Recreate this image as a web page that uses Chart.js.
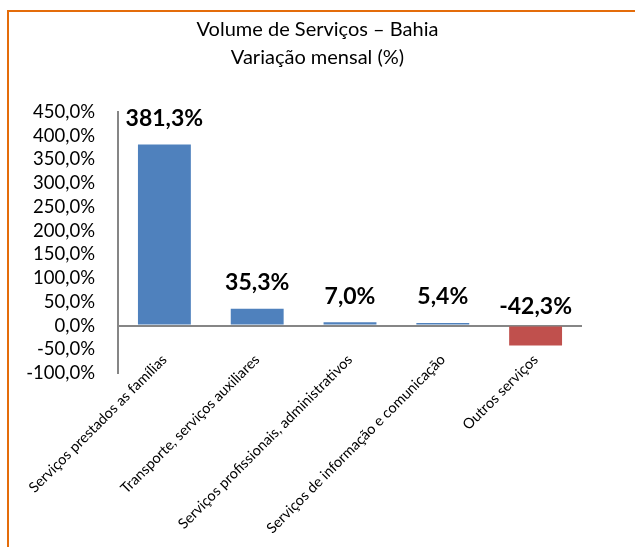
<!DOCTYPE html>
<html>
<head>
<meta charset="utf-8">
<script src="https://cdn.jsdelivr.net/npm/chart.js@4"></script>
<style>
    html, body { margin: 0; padding: 0; background: #fff; }
    #wrap { position: relative; width: 635px; height: 547px; overflow: hidden; }
    #frame { position: absolute; left: 7px; top: 10px; width: 700px; height: 600px; border: 2px solid #E46C0A; }
    canvas { position: absolute; left: 0; top: 0; }
</style>
</head>
<body>
<div id="wrap">
    <div id="frame"></div>
    <canvas id="chart" width="635" height="547"></canvas>
</div>
<script>
'use strict'

let categories = [
    'Serviços prestados as famílias',
    'Transporte, serviços auxiliares',
    'Serviços profissionais, administrativos',
    'Serviços de informação e comunicação',
    'Outros serviços'
];
let values = [381.3, 35.3, 7.0, 5.4, -42.3];
let titleLines = ['Volume de Serviços – Bahia', 'Variação mensal (%)'];

const fontFamily = "Lato, 'Open Sans', sans-serif";

function pct(v) {
    return v.toFixed(1).replace('.', ',') + '%';
}

// value labels above each bar, like the excel original
const valueLabels = {
    id: 'valueLabels',
    afterLayout(chart) {
        // category labels hang just under the zero line, so don't clip them to the axis box
        chart.scales.x._computeLabelArea = () => undefined;
    },
    afterDatasetsDraw(chart) {
        let ctx = chart.ctx;
        let meta = chart.getDatasetMeta(0);
        let zero = chart.scales.y.getPixelForValue(0);
        ctx.save();
        ctx.font = 'bold 23px ' + fontFamily;
        ctx.fillStyle = '#000';
        ctx.textAlign = 'center';
        ctx.textBaseline = 'middle';
        meta.data.forEach((bar, i) => {
            let y = values[i] >= 0 ? bar.y - 26 : zero - 19;
            ctx.fillText(pct(values[i]), bar.x, y);
        });
        ctx.restore();
    }
};

new Chart(document.getElementById('chart'), {
    type: 'bar',
    data: {
        labels: categories,
        datasets: [{
            data: values,
            backgroundColor: values.map(v => v >= 0 ? '#4F81BD' : '#C0504D'),
            categoryPercentage: 1,
            barPercentage: 0.57
        }]
    },
    options: {
        responsive: false,
        animation: false,
        layout: { padding: 0 },
        plugins: {
            legend: { display: false },
            tooltip: { enabled: false },
            title: {
                display: true,
                text: titleLines,
                color: '#000',
                font: { family: fontFamily, size: 20, weight: 'normal', lineHeight: 1.4 },
                padding: { top: 16, bottom: 40 }
            }
        },
        scales: {
            x: {
                grid: { display: false, drawTicks: false },
                border: { display: false },
                ticks: {
                    color: '#000',
                    font: { family: fontFamily, size: 14.5 },
                    minRotation: 45,
                    maxRotation: 45,
                    autoSkip: false,
                    padding: -22
                },
                afterFit(scale) { scale.height = 174; }
            },
            y: {
                min: -100,
                max: 450,
                grid: {
                    drawTicks: false,
                    lineWidth: 2,
                    color: c => c.tick && c.tick.value === 0 ? '#868686' : 'rgba(0,0,0,0)'
                },
                border: { display: true, color: '#868686', width: 2 },
                ticks: {
                    stepSize: 50,
                    autoSkip: false,
                    color: '#000',
                    font: { family: fontFamily, size: 18.5 },
                    padding: 23,
                    callback: v => pct(v)
                },
                afterFit(scale) { scale.width = 118; }
            },
            // empty axis on the right just to keep the plot narrower than the title
            spacer: {
                position: 'right',
                display: true,
                grid: { display: false, drawTicks: false },
                border: { display: false },
                ticks: { display: false },
                afterFit(scale) { scale.width = 53; }
            }
        }
    },
    plugins: [valueLabels]
});
</script>
</body>
</html>
